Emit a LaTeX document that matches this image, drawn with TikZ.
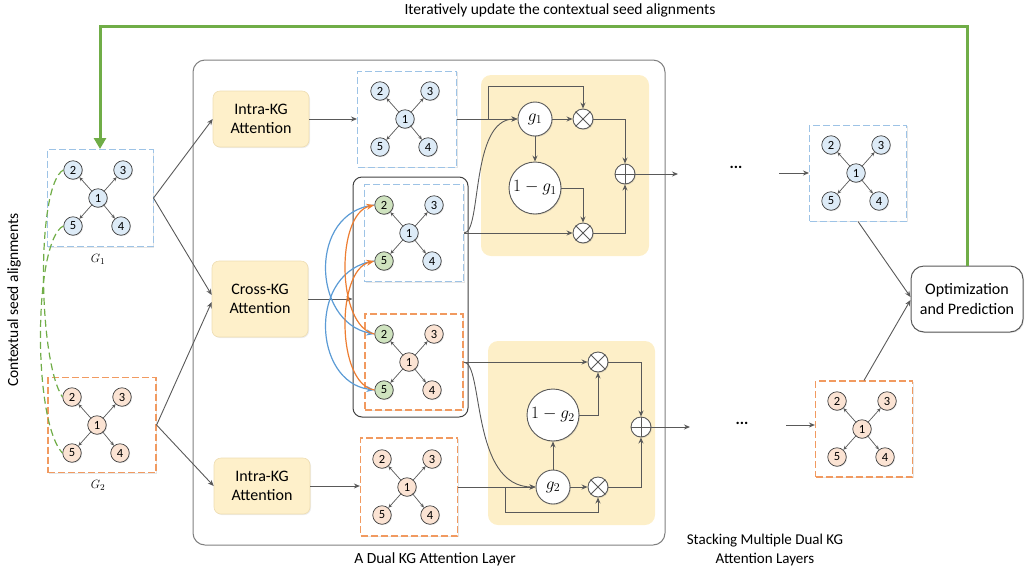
\documentclass[tikz,border=0pt]{standalone}
\usepackage{fontspec}
\setmainfont{Carlito}
\usetikzlibrary{arrows.meta,shadows,calc}

\definecolor{edgegray}{HTML}{595959}
\definecolor{nodeline}{HTML}{404040}
\definecolor{fillblue}{HTML}{DDEBF7}
\definecolor{fillorange}{HTML}{FBE3D3}
\definecolor{fillgreen}{HTML}{CFE3BF}
\definecolor{dashblue}{HTML}{9DC3E6}
\definecolor{dashorange}{HTML}{F19A60}
\definecolor{attfill}{HTML}{FEF0CA}
\definecolor{attline}{HTML}{EEDDB2}
\definecolor{gatefill}{HTML}{FDEFC8}
\definecolor{seedgreen}{HTML}{70AD47}
\definecolor{crossblue}{HTML}{5B9BD5}
\definecolor{crossorange}{HTML}{ED7D31}
\definecolor{framegray}{HTML}{7F7F7F}

% a small entity graph: centre 1 with arrows to 2, 3, 4, 5
\newcommand\kgraph[6]{%
  \node[#4] (#1) at (#2,#3) {};
  \node[kn,#5] (#1-1) at (#2,#3) {1};
  \path (#1-1) ++(-25,-28) node[kn,#6] (#1-2) {2}
        (#1-1) ++(25,-28)  node[kn,#5] (#1-3) {3}
        (#1-1) ++(23,28)   node[kn,#5] (#1-4) {4}
        (#1-1) ++(-25,28)  node[kn,#6] (#1-5) {5};
  \foreach \k in {2,3,4,5} \draw[sarr] (#1-1) -- (#1-\k);
}

\begin{document}
\begin{tikzpicture}[x=1pt,y=-1pt,
  kn/.style={circle,draw=nodeline,line width=0.7pt,minimum size=18.5pt,inner sep=0pt,
    font=\fontsize{12.5}{12.5}\selectfont,
    drop shadow={shadow xshift=0.8pt,shadow yshift=-0.8pt,opacity=0.25}},
  nb/.style={fill=fillblue},
  no/.style={fill=fillorange},
  ng/.style={fill=fillgreen},
  bbox/.style={draw=dashblue,dash pattern=on 7pt off 3pt,line width=1pt,fill=white,minimum width=99pt,minimum height=96pt,xshift=2pt,
    drop shadow={shadow xshift=1pt,shadow yshift=-1pt,opacity=0.2}},
  obox/.style={draw=dashorange,dash pattern=on 7pt off 3pt,line width=1.2pt,fill=white,minimum width=98pt,minimum height=96pt,xshift=2pt,
    drop shadow={shadow xshift=1pt,shadow yshift=-1pt,opacity=0.2}},
  sarr/.style={draw=edgegray,line width=0.7pt,-{Stealth[length=4pt,width=3.5pt]},shorten <=-1pt},
  arr/.style={draw=edgegray,line width=0.9pt,-{Stealth[length=6pt,width=5pt]}},
  line/.style={draw=edgegray,line width=0.9pt},
  att/.style={rounded corners=7pt,fill=attfill,draw=attline,line width=0.6pt,minimum width=96pt,
    align=center,font=\fontsize{16}{19}\selectfont,
    drop shadow={shadow xshift=1pt,shadow yshift=-1pt,opacity=0.15}},
  gc/.style={circle,draw=edgegray,fill=white,line width=0.9pt,inner sep=0pt,
    font=\fontsize{18}{18}\selectfont,
    drop shadow={shadow xshift=1pt,shadow yshift=-1pt,opacity=0.2}},
  opc/.style={circle,draw=edgegray,fill=white,line width=0.9pt,minimum size=20pt,inner sep=0pt,
    drop shadow={shadow xshift=1pt,shadow yshift=-1pt,opacity=0.2}},
  label/.style={font=\fontsize{15.5}{19}\selectfont,align=center},
  xarr/.style={line width=1.2pt,-{Stealth[length=8pt,width=6pt]}},
]
\useasboundingbox (0,0) rectangle (1028,574);

% --- layer frame and gate panels
\node[draw=framegray,line width=1pt,rounded corners=12pt,minimum width=472pt,minimum height=485pt] (layer) at (429,302.5) {};
\node[label] (layertxt) at (435,559) {A Dual KG Attention Layer};
\node[fill=gatefill,rounded corners=10pt,minimum width=168pt,minimum height=181pt] (gate1) at (565,165.5) {};
\node[fill=gatefill,rounded corners=10pt,minimum width=167pt,minimum height=184pt] (gate2) at (571.5,433) {};

% --- input graphs
\kgraph{G1}{98}{198}{bbox,minimum width=106pt,minimum height=97pt}{nb}{nb}
\kgraph{G2}{97}{425}{obox,minimum width=108pt,minimum height=95pt,xshift=3pt}{no}{no}
\node[font=\fontsize{13}{13}\selectfont] (g1lab) at (98,259) {$G_1$};
\node[font=\fontsize{13}{13}\selectfont] (g2lab) at (98,485) {$G_2$};
\node[label,rotate=90] (ctx) at (14,300) {Contextual seed alignments};

% seed alignments between the two graphs
\draw[seedgreen,line width=1.2pt,dash pattern=on 7pt off 4pt]
  (G1-2.west) .. controls (36,185) and (38,360) .. (G2-2.west);
\draw[seedgreen,line width=1.2pt,dash pattern=on 7pt off 4pt]
  (G1-5.west) .. controls (34,240) and (32,420) .. (G2-5.west);

% --- attention blocks
\node[att,minimum height=56pt] (att1) at (261,119) {Intra-KG\\Attention};
\node[att,minimum height=76pt] (att2) at (260,299) {Cross-KG\\Attention};
\node[att,minimum height=56pt] (att3) at (262,486) {Intra-KG\\Attention};

\draw[arr] (G1.east) -- (att1.west);
\draw[arr] (G1.east) -- ([yshift=4pt]att2.west);
\draw[arr] (G2.east) -- ([yshift=-3pt]att2.west);
\draw[arr] (G2.east) -- (att3.west);

% --- attention outputs
\kgraph{T}{405}{119}{bbox}{nb}{nb}
\node[draw=nodeline,line width=1pt,rounded corners=9pt,minimum width=115pt,minimum height=240pt] (inner) at (410.5,297) {};
\kgraph{CB}{409}{233}{bbox,minimum height=97pt,xshift=3pt}{nb}{ng}
\kgraph{CO}{409}{362}{obox,xshift=3pt}{no}{ng}
\kgraph{B}{407}{487}{obox,minimum width=97pt,minimum height=98pt}{no}{no}

\draw[arr] (att1.east) -- (T.west |- att1.east);
\draw[arr] (att2.east) -- (inner.west |- att2.east);
\draw[arr] (att3.east) -- (B.west |- att3.east);

% cross-KG exchange of the aligned entities
\draw[crossblue,xarr] (CB-2.west) .. controls (308,212) and (312,322) .. (CO-2.west);
\draw[crossblue,xarr] (CB-5.west) .. controls (308,270) and (312,382) .. (CO-5.west);
\draw[crossorange,xarr] (CO-2.west) .. controls (336,326) and (336,214) .. (CB-2.west);
\draw[crossorange,xarr] (CO-5.west) .. controls (336,384) and (336,270) .. (CB-5.west);

% --- gate for G1
\node[gc,minimum size=34pt] (g1) at (535,119) {$g_1$};
\node[gc,minimum size=52pt] (ng1) at (535,188) {$1-g_1$};
\node[opc] (m1) at (583,119) {};
\node[opc] (m2) at (583,233) {};
\node[opc] (p1) at (625,174) {};
\foreach \m in {m1,m2} \draw[line] (\m.north west) -- (\m.south east) (\m.north east) -- (\m.south west);
\draw[line] (p1.north) -- (p1.south) (p1.west) -- (p1.east);

\coordinate (b1) at (488,119);
\coordinate (b1up) at (488,86);
\draw[arr] (T.east |- g1) -- (g1.west);
\draw[arr] (b1) -- (b1up) -| (m1.north);
\draw[arr] (g1) -- (m1);
\draw[arr] (g1) -- (ng1);
\draw[arr] (ng1.east) -| (m2.north);
\draw[arr] (CB.east |- m2) -- (m2.west);
\draw[arr] (CB.east |- m2) .. controls (482,233) and (470,119) .. (g1.west);
\draw[arr] (m1.east) -| (p1.north);
\draw[arr] (m2.east) -| (p1.south);
\coordinate (o1) at (678,174);
\draw[arr] (p1.east) -- (o1);

% --- gate for G2
\node[gc,minimum size=34pt] (g2) at (553,487) {$g_2$};
\node[gc,minimum size=52pt] (ng2) at (553,415) {$1-g_2$};
\node[opc] (m3) at (598,362) {};
\node[opc] (m4) at (598,487) {};
\node[opc] (p2) at (641,427) {};
\foreach \m in {m3,m4} \draw[line] (\m.north west) -- (\m.south east) (\m.north east) -- (\m.south west);
\draw[line] (p2.north) -- (p2.south) (p2.west) -- (p2.east);

\coordinate (b2) at (505,487);
\coordinate (b2dn) at (505,512);
\draw[arr] (B.east |- g2) -- (g2.west);
\draw[arr] (b2) -- (b2dn) -| (m4.south);
\draw[arr] (g2) -- (ng2);
\draw[arr] (g2) -- (m4);
\draw[arr] (ng2.east) -| (m3.south);
\draw[arr] (CO.east |- m3) -- (m3.west);
\draw[arr] (CO.east |- m3) .. controls (484,362) and (470,487) .. (g2.west);
\draw[arr] (m3.east) -| (p2.north);
\draw[arr] (m4.east) -| (p2.south);
\coordinate (o2) at (690,427);
\draw[arr] (p2.east) -- (o2);

% --- stacked layers and prediction
\node[font=\bfseries\fontsize{16}{16}\selectfont] (dots1) at (736,167) {...};
\node[font=\bfseries\fontsize{16}{16}\selectfont] (dots2) at (742,423) {...};
\kgraph{R1}{856}{173}{bbox,minimum width=97pt}{nb}{nb}
\kgraph{R2}{862}{429}{obox,minimum width=97pt}{no}{no}
\coordinate (a1) at (779,173);
\coordinate (a2) at (786,425);
\draw[arr] (a1) -- (R1.west |- a1);
\draw[arr] (a2) -- (R2.west |- a2);

\node[draw=edgegray,line width=1pt,rounded corners=13pt,fill=white,minimum width=112pt,minimum height=66pt,
  align=center,font=\fontsize{16}{20}\selectfont,
  drop shadow={shadow xshift=1pt,shadow yshift=-1pt,opacity=0.2}] (opt) at (967,299) {Optimization\\and Prediction};
\draw[arr] (R1.south) -- ([yshift=2pt]opt.west);
\draw[arr] (R2.north) -- ([yshift=-1pt]opt.west);

\node[label,font=\fontsize{15}{19}\selectfont] (stack) at (765,550) {Stacking Multiple Dual KG\\Attention Layers};

% --- feedback of the updated seed alignments
\coordinate (fbR) at (967,26);
\draw[seedgreen,line width=3pt,-{Triangle[length=11pt,width=12pt]}] (opt.north) -- (fbR) -| (G1.north);
\node[label] (fbtxt) at (560,10) {Iteratively update the contextual seed alignments};
\end{tikzpicture}
\end{document}
